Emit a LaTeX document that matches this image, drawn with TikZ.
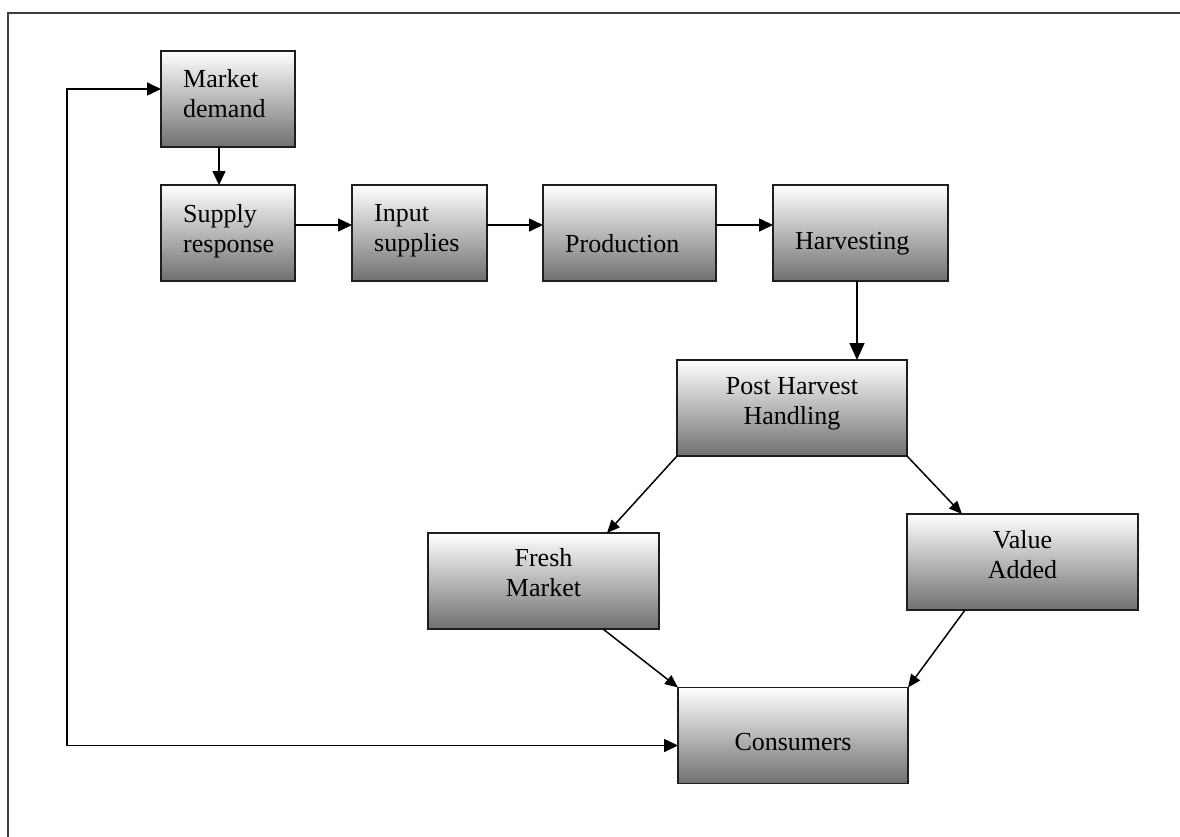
\documentclass[tikz,border=0pt]{standalone}
\usepackage{fontspec}
\setmainfont{Liberation Serif}
\usetikzlibrary{arrows.meta}
\definecolor{boxbottom}{RGB}{112,112,112}
\definecolor{boxline}{RGB}{30,30,30}
\definecolor{frameline}{RGB}{60,60,60}
\begin{document}
\begin{tikzpicture}[x=1pt,y=-1pt,
  font=\fontsize{26}{30}\selectfont,
  stage/.style={draw=boxline, line width=1.6pt, top color=white,
    bottom color=boxbottom, minimum width=#1, minimum height=96pt,
    inner sep=0pt, outer sep=0pt},
  lefttext/.style={anchor=west, xshift=22pt, align=left, inner sep=0pt},
  midtext/.style={anchor=center, align=center, inner sep=0pt},
  flow/.style={line width=1.6pt, -{Triangle[length=14pt,width=13pt]}},
  bigflow/.style={line width=1.6pt, -{Triangle[length=17pt,width=15pt]}},
  branch/.style={line width=1.5pt, -{Triangle[length=13pt,width=11pt]}},
  twoway/.style={line width=1.6pt,
    {Triangle[length=14pt,width=13pt]}-{Triangle[length=14pt,width=13pt]}}]

\useasboundingbox (0,0) rectangle (1180,836);
\fill[white] (0,0) rectangle (1180,836);

% outer frame, running off the right and bottom edges
\draw[frameline, line width=2.2pt] (8,13) rectangle (1200,860);

% supply chain stages
\node[stage=134pt, label={[lefttext, yshift=5pt]west:{Market\\demand}}]
  (md) at (228,99) {};
\node[stage=134pt, label={[lefttext, yshift=2pt]west:{Supply\\response}}]
  (sr) at (228,233) {};
\node[stage=135pt, label={[lefttext, yshift=2pt]west:{Input\\supplies}}]
  (is) at (419.5,233) {};
\node[stage=173pt, label={[lefttext, yshift=-11pt]west:{Production}}]
  (prod) at (629.5,233) {};
\node[stage=175pt, label={[lefttext, yshift=-11pt]west:{Harvesting}}]
  (harv) at (860.5,233) {};
\node[stage=230pt, label={[midtext, yshift=4pt]center:{Post Harvest\\Handling}}]
  (phh) at (792,408) {};
\node[stage=231pt, label={[midtext, yshift=8pt]center:{Fresh\\Market}}]
  (fm) at (543.5,581) {};
\node[stage=231pt, label={[midtext, yshift=7pt]center:{Value\\Added}}]
  (va) at (1022.5,562) {};
\node[stage=230pt, label={[midtext, yshift=-7pt]center:{Consumers}}]
  (cons) at (793,735.5) {};

% main flow
\draw[flow] ([xshift=-9pt]md.south) -- ([xshift=-9pt]sr.north);
\draw[flow] ([yshift=8pt]sr.east) -- ([yshift=8pt]is.west);
\draw[flow] ([yshift=8pt]is.east) -- ([yshift=8pt]prod.west);
\draw[flow] ([yshift=8pt]prod.east) -- ([yshift=8pt]harv.west);
\coordinate (drop) at ([xshift=-3.5pt]harv.south);
\draw[bigflow] (drop) -- (drop |- phh.north);

% market channels
\draw[branch] (phh.south west) -- ([xshift=63.5pt]fm.north);
\draw[branch] (phh.south east) -- ([xshift=-60.5pt]va.north);
\draw[branch] ([xshift=59.5pt]fm.south) -- (cons.north west);
\draw[branch] ([xshift=-57.5pt]va.south) -- (cons.north east);

% link between consumers and market demand
\coordinate (back) at (67,89);
\draw[twoway] ([yshift=-10pt]cons.west) -| (back) -- ([yshift=10pt]md.west);
\end{tikzpicture}
\end{document}
